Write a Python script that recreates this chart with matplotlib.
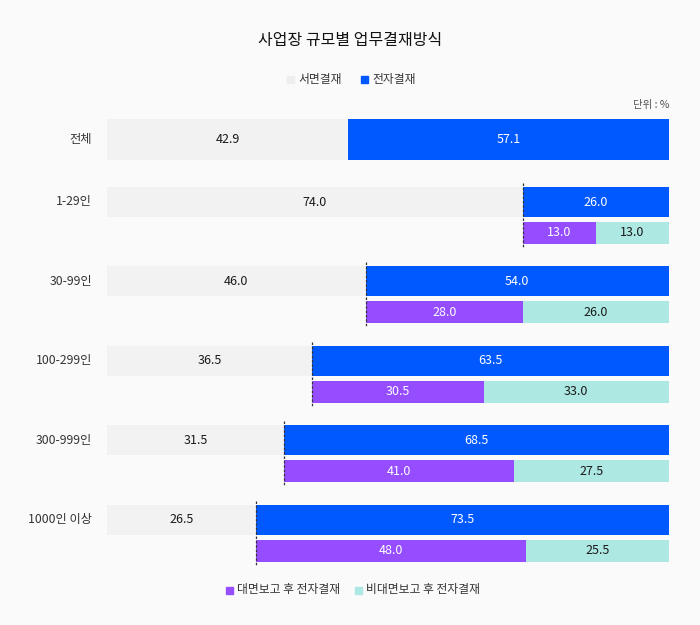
import matplotlib
matplotlib.use("Agg")
import matplotlib.pyplot as plt
from matplotlib.patches import Rectangle

plt.rcParams['font.family'] = ['Noto Sans CJK KR', 'DejaVu Sans']

categories = ['전체', '1-29인', '30-99인', '100-299인', '300-999인', '1000인 이상']
paper = [42.9, 74.0, 46.0, 36.5, 31.5, 26.5]
electronic = [57.1, 26.0, 54.0, 63.5, 68.5, 73.5]
face = [None, 13.0, 28.0, 30.5, 41.0, 48.0]
nonface = [None, 13.0, 26.0, 33.0, 27.5, 25.5]

title = '사업장 규모별 업무결재방식'
legend_top = ['서면결재', '전자결재']
legend_bottom = ['대면보고 후 전자결재', '비대면보고 후 전자결재']
unit_label = '단위 : %'

C_PAPER = '#f2f2f2'
C_ELEC = '#0059ff'
C_FACE = '#954dff'
C_NONFACE = '#ade8e3'
BG = '#fafafa'
W, H = 700, 625

fig = plt.figure(figsize=(7, 6.25), dpi=100, facecolor=BG)

# bar axes: x 0..100 maps to pixels 107..669, y in pixel units
ax = fig.add_axes([107 / W, 0, 562 / W, 1])
ax.set_xlim(0, 100)
ax.set_ylim(H, 0)
ax.axis('off')
ax.set_facecolor('none')

# overlay axes for text in pixel coords
ov = fig.add_axes([0, 0, 1, 1], zorder=-1)
ov.set_xlim(0, W)
ov.set_ylim(H, 0)
ov.axis('off')
ov.set_facecolor(BG)

fs = 9
for i, cat in enumerate(categories):
    if i == 0:
        yc, hm = 139.5, 41
    else:
        yc, hm = 202 + (i - 1) * 79.4, 30
    ax.barh(yc, paper[i], height=hm, color=C_PAPER, left=0, zorder=2)
    ax.barh(yc, electronic[i], height=hm, color=C_ELEC, left=paper[i], zorder=2)
    ax.text(paper[i] / 2, yc, f'{paper[i]:.1f}', ha='center', va='center',
            fontsize=fs, color='#1a1a1a', zorder=3)
    ax.text(paper[i] + electronic[i] / 2, yc, f'{electronic[i]:.1f}', ha='center',
            va='center', fontsize=fs, color='white', zorder=3)
    ov.text(92, yc, cat, ha='right', va='center', fontsize=8.8, color='#333333')
    if face[i] is not None:
        ys, hs = yc + 31, 22
        ax.barh(ys, face[i], height=hs, color=C_FACE, left=paper[i], zorder=2)
        ax.barh(ys, nonface[i], height=hs, color=C_NONFACE, left=paper[i] + face[i], zorder=2)
        ax.text(paper[i] + face[i] / 2, ys, f'{face[i]:.1f}', ha='center', va='center',
                fontsize=fs, color='white', zorder=3)
        ax.text(paper[i] + face[i] + nonface[i] / 2, ys, f'{nonface[i]:.1f}', ha='center',
                va='center', fontsize=fs, color='#1a1a1a', zorder=3)
        ax.plot([paper[i], paper[i]], [yc - hm / 2 - 4, ys + hs / 2 + 3],
                color='#333333', lw=0.9, linestyle=(0, (2, 1.5)), zorder=4)

# title
ov.text(350, 41, title, ha='center', va='center', fontsize=11.5, color='#111111')

# legends
def legend_item(x, y, color, label):
    ov.add_patch(Rectangle((x, y - 3.5), 7, 7, color=color))
    ov.text(x + 11, y, label, ha='left', va='center', fontsize=8.5, color='#333333')

legend_item(287, 79, '#eeeeee', legend_top[0])
legend_item(361, 79, C_ELEC, legend_top[1])

ov.text(669, 105, unit_label, ha='right', va='center', fontsize=7.5, color='#555555')

legend_item(226, 590, C_FACE, legend_bottom[0])
legend_item(355, 590, C_NONFACE, legend_bottom[1])

fig.savefig('out.png', dpi=100, facecolor=BG)
